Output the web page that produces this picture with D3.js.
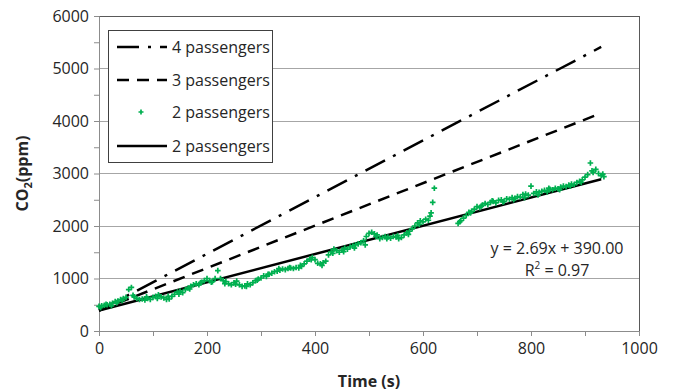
<!DOCTYPE html>
<html>
<head>
<meta charset="utf-8">
<script src="https://cdn.jsdelivr.net/npm/d3@7"></script>
<style>
  html, body { margin: 0; padding: 0; background: #fff; }
  svg text { font-family: "Open Sans", sans-serif; }
</style>
</head>
<body>
<svg id="chart" width="673" height="392"></svg>
<script>
// ---- Data ----
const xTicks = [0, 200, 400, 600, 800, 1000];
const yTicks = [0, 1000, 2000, 3000, 4000, 5000, 6000];

// measured CO2 (2 passengers)
const measTime = [0,5,10,15,20,25,30,35,40,45,50,55,60,65,70,75,80,85,90,95,
  100,105,110,115,120,125,130,135,140,145,150,155,160,165,170,175,180,185,190,195,
  200,205,210,215,220,225,230,235,240,245,250,255,260,265,270,275,280,285,290,295,
  300,305,310,315,320,325,330,335,340,345,350,355,360,365,370,375,380,385,390,395,
  400,405,410,415,420,425,430,435,440,445,450,455,460,465,470,475,480,485,490,495,
  500,505,510,515,520,525,530,535,540,545,550,555,560,565,570,575,580,585,590,595,
  600,605,610,615,618,621,665,670,675,680,685,690,695,
  700,705,710,715,720,725,730,735,740,745,750,755,760,765,770,775,780,785,790,795,
  800,805,810,815,820,825,830,835,840,845,850,855,860,865,870,875,880,885,890,895,
  900,905,910,915,920,925,930,935,
  3,13,23,33,43,63,88,108,128,148,168,188,208,233,253,273,293,313,333,353,373,393,
  413,433,453,473,493,513,533,553,573,593,613,668,688,708,728,748,768,788,813,833,853,873,893,913,933];
const measCO2 = [470,480,490,500,510,530,560,570,600,620,640,790,830,650,620,600,610,590,620,600,
  640,660,690,650,630,600,610,660,700,740,760,730,790,820,850,880,900,880,930,960,
  1000,960,940,1000,1150,1000,960,940,900,880,920,950,880,850,860,900,880,920,960,990,
  1010,1050,1040,1080,1100,1130,1140,1160,1180,1170,1190,1200,1190,1210,1200,1230,1280,1330,1370,1400,
  1360,1290,1280,1300,1330,1450,1510,1560,1530,1500,1540,1580,1560,1600,1620,1640,1660,1680,1720,1800,
  1860,1880,1850,1830,1760,1780,1800,1790,1770,1800,1790,1760,1780,1830,1870,1900,1950,2000,2060,2100,
  2080,2130,2110,2250,2450,2720,2050,2100,2150,2200,2260,2280,2320,
  2370,2350,2400,2430,2410,2450,2470,2440,2490,2500,2470,2520,2510,2540,2530,2560,2550,2600,2610,2590,
  2760,2620,2650,2640,2660,2680,2650,2700,2690,2720,2710,2740,2760,2750,2780,2800,2790,2830,2850,2880,
  2930,2980,3200,3020,3080,3000,2960,2940,
  450,510,480,540,580,680,650,620,660,700,800,920,930,900,890,850,970,1080,1190,1210,1250,1360,
  1250,1480,1510,1580,1640,1800,1760,1820,1840,2030,2190,2080,2250,2380,2480,2460,2500,2540,2590,2720,2690,2760,2830,3050,2990];

// reference lines
const lineTime = [0, 930];
const fourPassengers = [390, 5410];
const threePassengers = [390, 4150];
const twoPassengersFit = [390, 2892];

const legendLabels = ["4 passengers", "3 passengers", "2 passengers", "2 passengers"];
const equationText = "y = 2.69x + 390.00";
const r2Value = "0.97";

// ---- Layout ----
const svg = d3.select("#chart");
const margin = {left: 99, right: 34, top: 16, bottom: 61};
const W = 673, H = 392;
const x = d3.scaleLinear().domain([0, 1000]).range([margin.left, W - margin.right]);
const y = d3.scaleLinear().domain([0, 6000]).range([H - margin.bottom, margin.top]);

// gridlines
svg.append("g").selectAll("line").data(yTicks.filter(d => d > 0 && d < 6000)).join("line")
  .attr("x1", x(0)).attr("x2", x(1000))
  .attr("y1", d => y(d)).attr("y2", d => y(d))
  .attr("stroke", "#a6a6a6").attr("stroke-width", 1).attr("shape-rendering", "crispEdges");

// plot frame (top and right)
svg.append("path")
  .attr("d", `M${x(0)},${y(6000)}H${x(1000)}V${y(0)}`)
  .attr("fill", "none").attr("stroke", "#595959").attr("stroke-width", 1).attr("shape-rendering", "crispEdges");

// axes
const xAxis = d3.axisBottom(x).tickValues(d3.range(0, 1001, 100)).tickSize(5)
  .tickFormat(d => xTicks.includes(d) ? d : "");
const gx = svg.append("g").attr("transform", `translate(0,${y(0)})`).call(xAxis);
gx.select(".domain").attr("stroke", "#8c8c8c");
gx.selectAll(".tick line").attr("stroke", "#8c8c8c");
gx.selectAll(".tick text").attr("font-size", 16).attr("fill", "#262626").attr("dy", "0.95em")
  .attr("font-family", "Open Sans");

const yAxis = d3.axisLeft(y).tickValues(d3.range(0, 6001, 500)).tickSize(5)
  .tickFormat(d => yTicks.includes(d) ? d : "");
const gy = svg.append("g").attr("transform", `translate(${x(0)},0)`).call(yAxis);
gy.select(".domain").attr("stroke", "#8c8c8c");
gy.selectAll(".tick line").attr("stroke", "#8c8c8c");
gy.selectAll(".tick text").attr("font-size", 16).attr("fill", "#262626").attr("x", -10)
  .attr("font-family", "Open Sans");

// axis titles
svg.append("text").attr("x", (x(0) + x(1000)) / 2).attr("y", 387)
  .attr("text-anchor", "middle").attr("font-size", 16).attr("font-weight", "bold").attr("fill", "#262626")
  .text("Time (s)");
const yt = svg.append("text").attr("transform", `translate(28,${(y(0) + y(6000)) / 2}) rotate(-90)`)
  .attr("text-anchor", "middle").attr("font-size", 16).attr("font-weight", "bold").attr("fill", "#262626");
yt.append("tspan").text("CO");
yt.append("tspan").attr("font-size", 11).attr("dy", 4).text("2");
yt.append("tspan").attr("dy", -4).text("(ppm)");

// lines
const lineGen = d3.line().x(d => x(d[0])).y(d => y(d[1]));
const styles = [
  {vals: fourPassengers, dash: "22,9,3,9"},
  {vals: threePassengers, dash: "12,8"},
  {vals: twoPassengersFit, dash: null}
];
styles.forEach(s => {
  svg.append("path").datum(lineTime.map((t, i) => [t, s.vals[i]]))
    .attr("d", lineGen).attr("fill", "none").attr("stroke", "#000")
    .attr("stroke-width", 2.5).attr("stroke-dasharray", s.dash);
});

// scatter markers (+)
const green = "#00b050";
function plus(g, cx, cy, r) {
  g.append("path").attr("d", `M${cx - r},${cy}H${cx + r}M${cx},${cy - r}V${cy + r}`)
    .attr("stroke", green).attr("stroke-width", 1.7).attr("fill", "none");
}
const sg = svg.append("g");
measTime.forEach((t, i) => plus(sg, x(t), y(measCO2[i]), 2.8));

// annotation
svg.append("text").attr("x", 557).attr("y", 254).attr("text-anchor", "middle")
  .attr("font-size", 16).attr("fill", "#262626").text(equationText);
const r2 = svg.append("text").attr("x", 557).attr("y", 276).attr("text-anchor", "middle")
  .attr("font-size", 16).attr("fill", "#262626");
r2.append("tspan").text("R");
r2.append("tspan").attr("font-size", 10).attr("dy", -7).text("2");
r2.append("tspan").attr("dy", 7).text(" = " + r2Value);

// legend
const lg = svg.append("g");
lg.append("rect").attr("x", 108.5).attr("y", 30.5).attr("width", 164).attr("height", 132)
  .attr("fill", "#fff").attr("stroke", "#404040").attr("stroke-width", 1);
const rowY = [47, 80, 112, 146];
const legDash = ["22,9,3,9", "12,8", null, null];
legendLabels.forEach((lab, i) => {
  if (i === 2) {
    plus(lg, 141, rowY[i], 2.5);
  } else {
    lg.append("line").attr("x1", 117).attr("x2", 167).attr("y1", rowY[i]).attr("y2", rowY[i])
      .attr("stroke", "#000").attr("stroke-width", 2.5).attr("stroke-dasharray", legDash[i]);
  }
  lg.append("text").attr("x", 172).attr("y", rowY[i]).attr("dy", "0.35em")
    .attr("font-size", 16).attr("fill", "#262626").text(lab);
});
</script>
</body>
</html>
